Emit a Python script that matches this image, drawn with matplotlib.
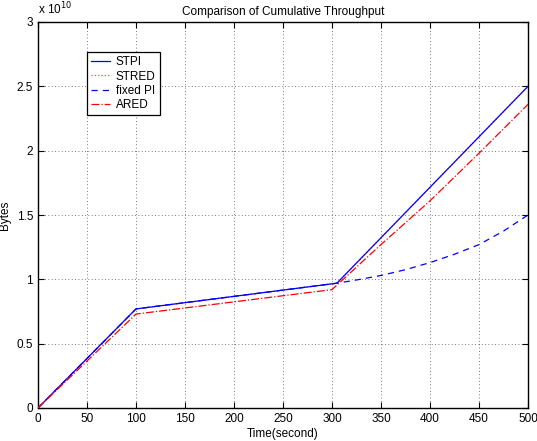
import matplotlib.pyplot as plt
import numpy as np
from matplotlib.ticker import FuncFormatter

plt.rcParams['font.family'] = ['Liberation Sans', 'DejaVu Sans']

# cumulative bytes, in units of 1e10
t_stpi = [0, 100, 305, 500]
y_stpi = [0, 0.77, 0.97, 2.5]

t_stred = [0, 100, 305, 500]
y_stred = [0, 0.77, 0.97, 2.5]

t_fpi = [0, 100, 305, 325, 350, 375, 400, 425, 450, 475, 500]
y_fpi = [0, 0.77, 0.97, 0.995, 1.03, 1.075, 1.13, 1.195, 1.27, 1.375, 1.5]

t_ared = [0, 100, 300, 350, 400, 450, 500]
y_ared = [0, 0.73, 0.92, 1.27, 1.61, 1.98, 2.36]

fig = plt.figure(figsize=(5.37, 4.41), dpi=100)
ax = fig.add_axes([38/537, 33/441, 490/537, 386/441])

ax.plot(t_stred, y_stred, ':', color='#ff5050', lw=0.9, label='STRED', zorder=2)
ax.plot(t_stpi, y_stpi, '-', color='#0000ff', lw=0.9, label='STPI', zorder=3)
ax.plot(t_fpi, y_fpi, '--', color='#0000ff', lw=0.9, dashes=(5, 4), label='fixed PI', zorder=3)
ax.plot(t_ared, y_ared, '-.', color='#ff0000', lw=0.9, label='ARED', zorder=3)

ax.set_xlim(0, 500)
ax.set_ylim(0, 3)
ax.set_xticks(np.arange(0, 501, 50))
ax.set_yticks(np.arange(0, 3.01, 0.5))
ax.yaxis.set_major_formatter(FuncFormatter(lambda v, p: '%g' % v))
ax.tick_params(direction='in', length=4, labelsize=8.5, top=True, right=True)
ax.grid(True, linestyle=(0, (1, 3)), color='k', lw=0.6, alpha=0.7)
for s in ax.spines.values():
    s.set_linewidth(1.0)

ax.set_xlabel('Time(second)', fontsize=8.5, labelpad=2)
ax.set_ylabel('Bytes', fontsize=8.5, labelpad=4)
ax.set_title('Comparison of Cumulative Throughput', fontsize=8.5, pad=5)
ax.text(0.0, 1.012, r'x 10$^{10}$', transform=ax.transAxes, fontsize=8.5,
        ha='left', va='bottom')

h, l = ax.get_legend_handles_labels()
order = [1, 0, 2, 3]
leg = ax.legend([h[i] for i in order], [l[i] for i in order],
                loc='upper left', bbox_to_anchor=(0.1, 0.922), borderaxespad=0,
                fontsize=8.5, frameon=True, fancybox=False, edgecolor='k',
                framealpha=1, handlelength=1.6, borderpad=0.35,
                labelspacing=0.2, handletextpad=0.5)
leg.get_frame().set_linewidth(0.9)

fig.savefig('out.png', dpi=100)
